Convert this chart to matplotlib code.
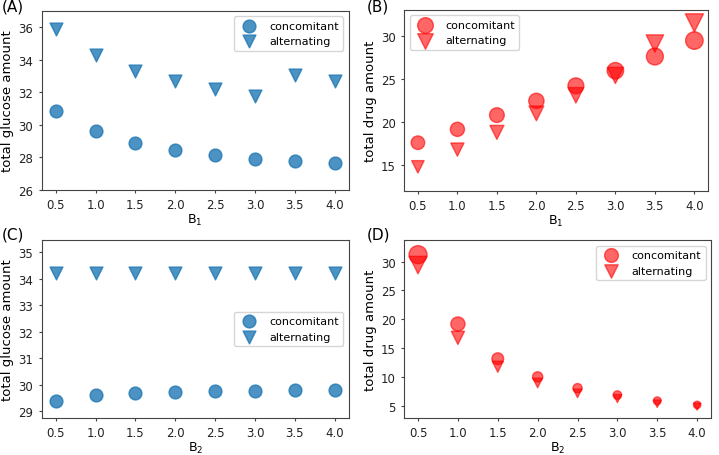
import numpy as np
import matplotlib
matplotlib.use("Agg")
import matplotlib.pyplot as plt

# parameter values on the x axis
b_vals = [0.5, 1.0, 1.5, 2.0, 2.5, 3.0, 3.5, 4.0]

# (A) glucose vs B1
glu_b1_conc = [30.85, 29.6, 28.9, 28.47, 28.17, 27.93, 27.78, 27.67]
glu_b1_alt = [35.9, 34.28, 33.3, 32.68, 32.18, 31.8, 33.05, 32.72]

# (B) drug vs B1
drug_b1_conc = [17.6, 19.15, 20.8, 22.45, 24.2, 25.95, 27.6, 29.45]
drug_b1_alt = [14.8, 16.8, 18.8, 21.0, 23.1, 25.4, 29.1, 31.5]

# (C) glucose vs B2
glu_b2_conc = [29.38, 29.6, 29.68, 29.73, 29.75, 29.77, 29.78, 29.8]
glu_b2_alt = [34.22, 34.22, 34.22, 34.22, 34.22, 34.22, 34.22, 34.22]

# (D) drug vs B2
drug_b2_conc = [31.2, 19.2, 13.2, 10.05, 8.1, 6.9, 5.9, 5.2]
drug_b2_alt = [29.4, 16.8, 11.8, 9.0, 7.2, 6.3, 5.4, 4.9]

plt.rcParams['font.size'] = 9.5
plt.rcParams['axes.edgecolor'] = '#444444'
plt.rcParams['xtick.color'] = '#444444'
plt.rcParams['ytick.color'] = '#444444'
plt.rcParams['xtick.labelcolor'] = '#222222'
plt.rcParams['ytick.labelcolor'] = '#222222'
plt.rcParams['xtick.major.size'] = 2.5
plt.rcParams['ytick.major.size'] = 2.5
plt.rcParams['xtick.major.pad'] = 3.5
plt.rcParams['ytick.major.pad'] = 3.5
plt.rcParams['xtick.labelsize'] = 8.5
plt.rcParams['ytick.labelsize'] = 8.5

fig = plt.figure(figsize=(7.19, 4.56), dpi=100)

blue = '#1f77b4'
glu_size = 85
drug_k = 5.4


def glucose_panel(ax, conc, alt, xlabel, ylim, loc):
    ax.scatter(b_vals, conc, s=glu_size, marker='o', color=blue, alpha=0.8, label='concomitant')
    ax.scatter(b_vals, alt, s=glu_size, marker='v', color=blue, alpha=0.8, label='alternating')
    ax.set_ylim(*ylim)
    ax.set_xlabel(xlabel, labelpad=0.5, fontsize=9)
    ax.set_ylabel('total glucose amount', labelpad=3)
    ax.set_xticks(b_vals)
    ax.legend(loc=loc, fontsize=8)


def drug_panel(ax, conc, alt, xlabel, ylim, loc):
    ax.scatter(b_vals, conc, s=np.array(conc) * drug_k, marker='o', color='red', alpha=0.6, label='concomitant')
    ax.scatter(b_vals, alt, s=np.array(alt) * drug_k, marker='v', color='red', alpha=0.6, label='alternating')
    ax.set_ylim(*ylim)
    ax.set_xlabel(xlabel, labelpad=0.5, fontsize=9)
    ax.set_ylabel('total drug amount', labelpad=3)
    ax.set_xticks(b_vals)
    ax.legend(loc=loc, fontsize=8)


axA = fig.add_axes([0.058, 0.581, 0.427, 0.393])
glucose_panel(axA, glu_b1_conc, glu_b1_alt, '$\\mathrm{B_1}$', (26, 37), 'upper right')
axA.set_yticks([26, 28, 30, 32, 34, 36])

axB = fig.add_axes([0.562, 0.579, 0.423, 0.397])
drug_panel(axB, drug_b1_conc, drug_b1_alt, '$\\mathrm{B_1}$', (12, 33), 'upper left')

axC = fig.add_axes([0.058, 0.082, 0.427, 0.389])
glucose_panel(axC, glu_b2_conc, glu_b2_alt, '$\\mathrm{B_2}$', (28.75, 35.45), 'center right')

axD = fig.add_axes([0.562, 0.082, 0.427, 0.389])
drug_panel(axD, drug_b2_conc, drug_b2_alt, '$\\mathrm{B_2}$', (3.0, 33.7), 'upper right')

for lab, x, y in [('(A)', 0.002, 0.985), ('(B)', 0.51, 0.985),
                  ('(C)', 0.002, 0.484), ('(D)', 0.51, 0.484)]:
    fig.text(x, y, lab, fontsize=11, va='center', ha='left')

fig.savefig('out.png', dpi=100)
